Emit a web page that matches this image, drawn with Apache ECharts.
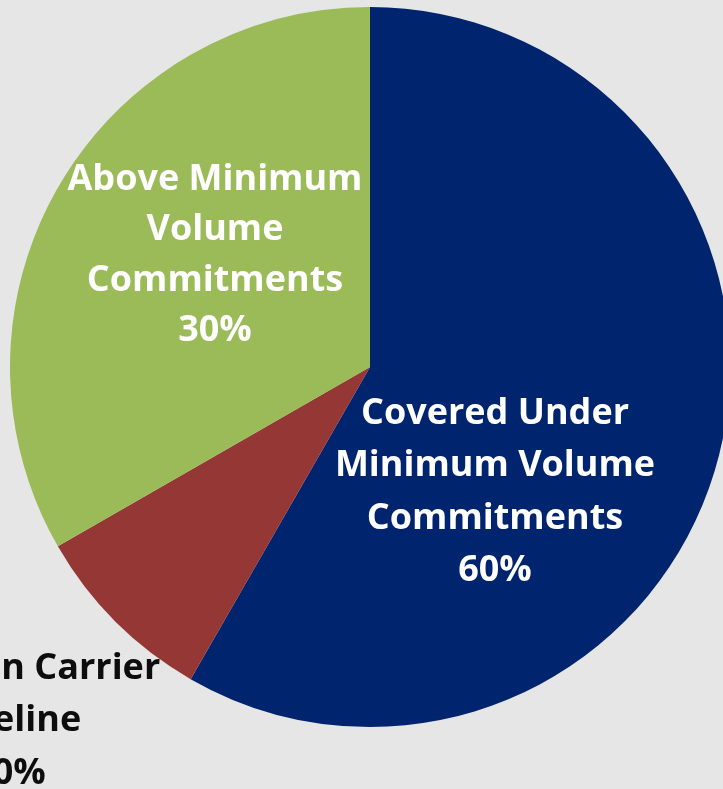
<!DOCTYPE html>
<html>
<head>
<meta charset="utf-8">
<script src="https://cdn.jsdelivr.net/npm/echarts@6/dist/echarts.min.js"></script>
<style>
html,body{margin:0;padding:0;background:#e6e6e6;}
#chart{width:723px;height:789px;}
</style>
</head>
<body>
<div id="chart"></div>
<script>
// Data
const categories = [
  "Covered Under\nMinimum Volume\nCommitments",
  "Linefill in Carrier\nPipeline",
  "Above Minimum\nVolume\nCommitments"
];
const values = [58.3, 8.4, 33.3];
const percentLabels = ["60%", "10%", "30%"];

const colors = ["#00246e", "#953735", "#9bbb59"];
const labelPos = [[495, 492], [9, 721], [215, 255]];
const labelColors = ["#ffffff", "#0d0d0d", "#ffffff"];

const chart = echarts.init(document.getElementById('chart'), null, {renderer: 'canvas'});
chart.setOption({
  backgroundColor: '#e6e6e6',
  animation: false,
  series: [{
    type: 'pie',
    center: [370, 367],
    radius: 360,
    startAngle: 90,
    clockwise: true,
    avoidLabelOverlap: false,
    labelLine: {show: false},
    itemStyle: {borderWidth: 0},
    emphasis: {disabled: true},
    data: categories.map((c, i) => ({
      name: c,
      value: values[i],
      itemStyle: {color: colors[i]},
      label: {
        show: true,
        position: 'inside',
        formatter: c + '\n' + percentLabels[i],
        color: labelColors[i],
        fontFamily: 'Open Sans',
        fontWeight: 'bold',
        fontSize: 36,
        lineHeight: i === 2 ? 50.5 : 52.5,
        align: 'center'
      }
    })),
    labelLayout: function (params) {
      const p = labelPos[params.dataIndex];
      return {x: p[0], y: p[1], align: 'center', verticalAlign: 'middle'};
    }
  }]
});
</script>
</body>
</html>
